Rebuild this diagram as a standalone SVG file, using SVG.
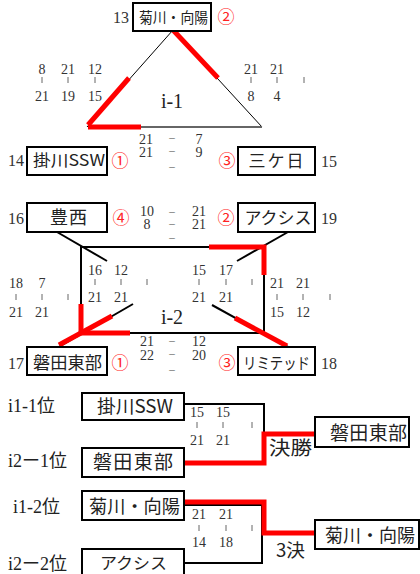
<svg xmlns="http://www.w3.org/2000/svg" width="420" height="574" viewBox="0 0 420 574">
<style>
.bx{fill:#fff;stroke:#000;stroke-width:2}
.jp{font-family:"Noto Sans CJK JP",sans-serif;fill:#222;text-anchor:middle}
.num{font-family:"Liberation Serif","Noto Sans CJK JP",serif;fill:#333;font-size:16px}
.sc{font-family:"Liberation Serif",serif;fill:#333;font-size:14px;text-anchor:middle}
.dash{font-family:"Noto Sans CJK JP",sans-serif;fill:#555;font-size:8px;text-anchor:middle}
.cir{font-family:"Noto Sans CJK JP",sans-serif;fill:#f22;font-size:17px;text-anchor:middle}
.tk{stroke:#666;stroke-width:1}
.thin{stroke:#000;stroke-width:1;fill:none}
.blk{stroke:#000;stroke-width:2;fill:none}
.red{stroke:#f00;stroke-width:5;fill:none}
.lbl{font-family:"Liberation Serif","Noto Sans CJK JP",serif;fill:#222;font-size:18px}
.big{font-family:"Liberation Serif",serif;fill:#222;font-size:20px;text-anchor:middle}
</style>

<g id="connectors">
  <line class="thin" x1="173" y1="30" x2="87" y2="127"/>
  <line class="thin" x1="173" y1="30" x2="262" y2="127"/>
  <line x1="88" y1="127" x2="262" y2="127" stroke="#666" stroke-width="2"/>
  <line class="red" x1="173" y1="30" x2="218" y2="78"/>
  <line class="red" x1="129" y1="78" x2="88" y2="125"/>
  <line class="red" x1="88" y1="127" x2="141" y2="127"/>
  <rect x="81" y="247" width="183" height="86" class="blk"/>
  <line class="blk" x1="57" y1="232" x2="107" y2="261"/>
  <line class="blk" x1="288" y1="232" x2="237" y2="261"/>
  <line class="blk" x1="57" y1="348" x2="133" y2="304"/>
  <line class="blk" x1="212" y1="305" x2="288" y2="347"/>
  <polyline class="red" points="209,247 264,247 264,275"/>
  <polyline class="red" points="81,304 81,333 130,333"/>
  <line class="red" x1="59" y1="345" x2="112" y2="316"/>
  <line class="red" x1="235" y1="318" x2="287" y2="346"/>
  <polyline class="blk" points="184,404 264,404 264,463 184,463"/>
  <polyline class="red" points="184,463 264,463 264,434 315,434"/>
  <polyline class="blk" points="184,505 262,505 262,563 184,563"/>
  <polyline class="red" points="184,502 264,502 264,533 315,533"/>
</g>

<g id="node-kikugawa">
  <rect class="bx" x="133" y="3" width="78" height="28"/>
  <text class="jp" x="173.5" y="23" font-size="14.5" textLength="69" lengthAdjust="spacingAndGlyphs">菊川・向陽</text>
  <text class="num" x="129" y="23" text-anchor="end">13</text>
  <text class="cir" x="226" y="23">②</text>
</g>
<g id="node-kakegawa">
  <rect class="bx" x="27" y="147" width="80" height="28"/>
  <text class="jp" x="69" y="166" font-size="16" textLength="72" lengthAdjust="spacingAndGlyphs">掛川SSW</text>
  <text class="num" x="8" y="166">14</text>
  <text class="cir" x="120" y="167">①</text>
</g>
<g id="node-mikkabi">
  <rect class="bx" x="238" y="147" width="77" height="28"/>
  <text class="jp" x="276" y="167" font-size="17" textLength="55" lengthAdjust="spacing">三ケ日</text>
  <text class="num" x="321" y="167">15</text>
  <text class="cir" x="227" y="167">③</text>
</g>
<g id="node-toyonishi">
  <rect class="bx" x="27" y="203" width="80" height="29"/>
  <text class="jp" x="68.5" y="224" font-size="18" textLength="37" lengthAdjust="spacing">豊西</text>
  <text class="num" x="8" y="224">16</text>
  <text class="cir" x="121" y="224">④</text>
</g>
<g id="node-axis">
  <rect class="bx" x="238" y="203" width="77" height="29"/>
  <text class="jp" x="278" y="224" font-size="17" textLength="67" lengthAdjust="spacingAndGlyphs">アクシス</text>
  <text class="num" x="321" y="224">19</text>
  <text class="cir" x="226" y="224">②</text>
</g>
<g id="node-iwatahigashi">
  <rect class="bx" x="27" y="347" width="80" height="28"/>
  <text class="jp" x="67.5" y="369" font-size="17" textLength="69" lengthAdjust="spacingAndGlyphs">磐田東部</text>
  <text class="num" x="8" y="369">17</text>
  <text class="cir" x="120" y="369">①</text>
</g>
<g id="node-limited">
  <rect class="bx" x="238" y="347" width="77" height="28"/>
  <text class="jp" x="276.5" y="369" font-size="16" textLength="67" lengthAdjust="spacingAndGlyphs">リミテッド</text>
  <text class="num" x="321" y="369">18</text>
  <text class="cir" x="227" y="369">③</text>
</g>

<g id="league-i1">
  <text class="big" x="172" y="108">i-1</text>
  <text class="sc" x="42" y="74">8</text><text class="sc" x="68" y="74">21</text><text class="sc" x="95" y="74">12</text>
  <line class="tk" x1="42" y1="77" x2="42" y2="83"/><line class="tk" x1="68" y1="77" x2="68" y2="83"/><line class="tk" x1="95" y1="77" x2="95" y2="83"/>
  <text class="sc" x="42" y="101">21</text><text class="sc" x="68" y="101">19</text><text class="sc" x="95" y="101">15</text>
  <text class="sc" x="251" y="74">21</text><text class="sc" x="277" y="74">21</text>
  <line class="tk" x1="251" y1="77" x2="251" y2="83"/><line class="tk" x1="277" y1="77" x2="277" y2="83"/><line class="tk" x1="304" y1="77" x2="304" y2="83"/>
  <text class="sc" x="251" y="101">8</text><text class="sc" x="277" y="101">4</text>
  <text class="sc" x="146" y="144">21</text><text class="dash" x="172" y="141">－</text><text class="sc" x="199" y="144">7</text>
  <text class="sc" x="146" y="157">21</text><text class="dash" x="172" y="154">－</text><text class="sc" x="199" y="157">9</text>
  <text class="dash" x="172" y="170">－</text>
</g>

<g id="league-i2">
  <text class="big" x="172" y="324">i-2</text>
  <text class="sc" x="147" y="216">10</text><text class="dash" x="172" y="215">－</text><text class="sc" x="199" y="216">21</text>
  <text class="sc" x="147" y="229">8</text><text class="dash" x="172" y="227">－</text><text class="sc" x="199" y="229">21</text>
  <text class="dash" x="172" y="241">－</text>
  <text class="sc" x="95" y="275">16</text><text class="sc" x="121" y="275">12</text>
  <line class="tk" x1="95" y1="279" x2="95" y2="285"/><line class="tk" x1="121" y1="279" x2="121" y2="285"/><line class="tk" x1="147" y1="279" x2="147" y2="285"/>
  <text class="sc" x="95" y="302">21</text><text class="sc" x="121" y="302">21</text>
  <text class="sc" x="199" y="275">15</text><text class="sc" x="226" y="275">17</text>
  <line class="tk" x1="199" y1="279" x2="199" y2="285"/><line class="tk" x1="226" y1="279" x2="226" y2="285"/><line class="tk" x1="252" y1="279" x2="252" y2="285"/>
  <text class="sc" x="199" y="302">21</text><text class="sc" x="226" y="302">21</text>
  <text class="sc" x="16" y="288">18</text><text class="sc" x="42" y="288">7</text>
  <line class="tk" x1="16" y1="294" x2="16" y2="300"/><line class="tk" x1="42" y1="294" x2="42" y2="300"/><line class="tk" x1="68" y1="294" x2="68" y2="300"/>
  <text class="sc" x="16" y="317">21</text><text class="sc" x="42" y="317">21</text>
  <text class="sc" x="277" y="288">21</text><text class="sc" x="303" y="288">21</text>
  <line class="tk" x1="277" y1="294" x2="277" y2="300"/><line class="tk" x1="303" y1="294" x2="303" y2="300"/><line class="tk" x1="330" y1="294" x2="330" y2="300"/>
  <text class="sc" x="277" y="317">15</text><text class="sc" x="303" y="317">12</text>
  <text class="sc" x="147" y="346">21</text><text class="dash" x="172" y="344">－</text><text class="sc" x="199" y="346">12</text>
  <text class="sc" x="147" y="360">22</text><text class="dash" x="172" y="357">－</text><text class="sc" x="199" y="360">20</text>
  <text class="dash" x="172" y="373">－</text>
</g>

<g id="final">
  <text class="lbl" x="8" y="412">i1-1位</text>
  <text class="lbl" x="8" y="467">i2ー1位</text>
  <rect class="bx" x="82" y="393" width="102" height="27"/>
  <text class="jp" x="135" y="413" font-size="18" textLength="76" lengthAdjust="spacingAndGlyphs">掛川SSW</text>
  <rect class="bx" x="82" y="448" width="102" height="29"/>
  <text class="jp" x="133" y="469" font-size="19" textLength="80" lengthAdjust="spacing">磐田東部</text>
  <text class="sc" x="197" y="417">15</text><text class="sc" x="223" y="417">15</text>
  <line class="tk" x1="197" y1="422" x2="197" y2="428"/><line class="tk" x1="223" y1="422" x2="223" y2="428"/><line class="tk" x1="252" y1="422" x2="252" y2="428"/>
  <text class="sc" x="197" y="445">21</text><text class="sc" x="223" y="445">21</text>
  <text class="jp" x="290.5" y="455" font-size="19" textLength="43" lengthAdjust="spacingAndGlyphs">決勝</text>
  <rect class="bx" x="315" y="417" width="94" height="30"/>
  <text class="jp" x="368.5" y="440" font-size="19" textLength="77" lengthAdjust="spacing">磐田東部</text>
</g>

<g id="third">
  <text class="lbl" x="13" y="513">i1-2位</text>
  <text class="lbl" x="8" y="570">i2ー2位</text>
  <rect class="bx" x="82" y="549" width="102" height="30"/>
  <text class="jp" x="133.5" y="569" font-size="16" textLength="67" lengthAdjust="spacingAndGlyphs">アクシス</text>
  <rect class="bx" x="82" y="491" width="102" height="29"/>
  <text class="jp" x="134.5" y="513" font-size="18" textLength="91" lengthAdjust="spacingAndGlyphs">菊川・向陽</text>
  <text class="sc" x="199" y="519">21</text><text class="sc" x="226" y="519">21</text>
  <line class="tk" x1="199" y1="525" x2="199" y2="531"/><line class="tk" x1="226" y1="525" x2="226" y2="531"/><line class="tk" x1="252" y1="525" x2="252" y2="531"/>
  <text class="sc" x="199" y="547">14</text><text class="sc" x="226" y="547">18</text>
  <text class="jp" x="290.5" y="557" font-size="18" textLength="29" lengthAdjust="spacingAndGlyphs">3決</text>
  <rect class="bx" x="315" y="520" width="104" height="29"/>
  <text class="jp" x="370" y="542" font-size="18" textLength="90" lengthAdjust="spacingAndGlyphs">菊川・向陽</text>
</g>
</svg>
